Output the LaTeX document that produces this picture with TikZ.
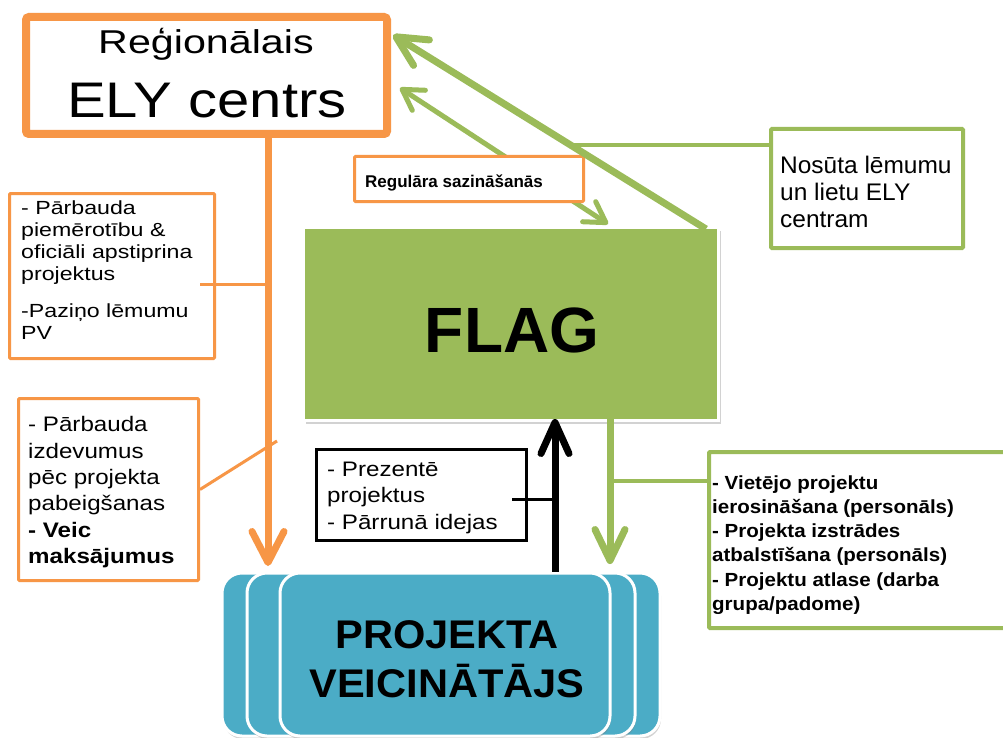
\documentclass[tikz,border=0pt]{standalone}
\usepackage{fontspec}
\setmainfont{Liberation Sans}
\usetikzlibrary{arrows.meta,calc,shadows}
\definecolor{orng}{HTML}{F79646}
\definecolor{grn}{HTML}{9BBB59}
\definecolor{tealb}{HTML}{4BACC6}
\newcommand\myfont[3]{\fontspec[FakeStretch=#3]{Liberation Sans}\fontsize{#1}{#2}\selectfont}
\begin{document}
\begin{tikzpicture}[x=1pt,y=-1pt,
  obox/.style={draw=orng,line width=3pt,fill=white,inner sep=0pt,rounded corners=1pt},
  gbox/.style={draw=grn,line width=4pt,fill=white,inner sep=0pt,rounded corners=1pt},
  tx/.style={anchor=north west,inner sep=0pt,align=left},
  pvbox/.style={fill=tealb,draw=white,line width=3pt,rounded corners=20pt,minimum height=163pt,inner sep=0pt,
    drop shadow={shadow xshift=1pt,shadow yshift=-3pt,opacity=.35}},
  oline/.style={orng,line width=3pt},
  gline/.style={grn,line width=4pt}]
\fill[white] (0,0) rectangle (1003,738);
\useasboundingbox (0,0) rectangle (1003,738);
% ELY box
\node[draw=orng,line width=8pt,rounded corners=3pt,fill=white,minimum width=361pt,minimum height=117pt,inner sep=0pt] (ely) at (206.5,75.5) {};
\node[anchor=base,inner sep=0pt,font=\myfont{33}{40}{1.25}] (ely1) at (206,54) {Reģionālais};
\node[anchor=base,inner sep=0pt,font=\myfont{50}{60}{1.16}] (ely2) at (207,118) {ELY centrs};
% FLAG box
\node[fill=grn,draw=white,line width=3pt,minimum width=415pt,minimum height=193pt,inner sep=0pt,
  drop shadow={shadow xshift=2pt,shadow yshift=-3pt,opacity=.35}] (flag) at (511,324) {};
\node[anchor=base,inner sep=0pt,font=\myfont{64}{70}{1}\bfseries] (flagt) at (512,352) {FLAG};
% thin double arrow (behind the label box)
\draw[grn,line width=5pt,{Straight Barb[length=20pt,width=24pt,round]}-{Straight Barb[length=20pt,width=24pt,round]}]
  ($(ely.east)+(9,12.5)$) -- ($(flag.north)+(97,-2)$);
% Regulara box
\node[obox,minimum width=229pt,minimum height=45pt] (reg) at (469,179) {};
\node[anchor=base west,inner sep=0pt,font=\myfont{17}{20}{1}\bfseries] (regt) at (365,187) {Regulāra sazināšanās};
% Nosuta box
\node[gbox,minimum width=192pt,minimum height=119pt] (nos) at (867,188.5) {};
\node[tx,font=\myfont{24}{27}{1.02}] (nost) at (780,149) {\rule{0pt}{24pt}Nosūta lēmumu\\un lietu ELY\\centram};
% left boxes
\node[obox,minimum width=205pt,minimum height=165pt] (b1) at (112,276) {};
\node[tx,font=\myfont{19}{22}{1.22}] (b1t) at (21,195) {\rule{0pt}{19pt}- Pārbauda\\piemērotību \&\\oficiāli apstiprina\\projektus\\[15pt]-Paziņo lēmumu\\PV};
\node[obox,minimum width=180pt,minimum height=182pt] (b2) at (108.5,489.5) {};
\node[tx,font=\myfont{21}{26.3}{1.15}] (b2t) at (28,410.7) {\rule{0pt}{21pt}- Pārbauda\\izdevumus\\pēc projekta\\pabeigšanas\\\textbf{- Veic}\\\textbf{maksājumus}};
% Prezente box
\node[draw=black,line width=3pt,fill=white,minimum width=210pt,minimum height=91pt,inner sep=0pt] (prz) at (421.5,495) {};
\node[tx,font=\myfont{21}{26.5}{1.15}] (przt) at (327,455) {\rule{0pt}{21pt}- Prezentē\\projektus\\- Pārrunā idejas};
% right green box
\node[gbox,minimum width=311pt,minimum height=176pt] (rb) at (864.5,540) {};
\node[tx,font=\myfont{19}{24.2}{1.08}\bfseries] (rbt) at (712,470) {\rule{0pt}{19pt}- Vietējo projektu\\ierosināšana (personāls)\\- Projekta izstrādes\\atbalstīšana (personāls)\\- Projektu atlase (darba\\grupa/padome)};
% PV stacked boxes
\node[pvbox,minimum width=438pt] (pv1) at (441,654.5) {};
\node[pvbox,minimum width=388pt] (pv2) at (441,654.5) {};
\node[pvbox,minimum width=330pt] (pv3) at (445,654.5) {};
\node[anchor=north,inner sep=0pt,align=center,font=\myfont{40}{49}{1.04}\bfseries] (pvt) at (447,608) {\rule{0pt}{40pt}PROJEKTA\\VEICINĀTĀJS};
% connectors
\coordinate (oTip) at (268,566);
\draw[orng,line width=7pt,-{Straight Barb[length=31pt,width=32pt,round]}] (ely.south -| oTip) -- (oTip);
\coordinate (oK1) at (200,284);
\draw[oline] (oK1) -- (oK1 -| oTip);
\coordinate (oK2) at (277,441);
\draw[oline] (b2.east) -- (oK2);
\draw[grn,line width=7pt,-{Straight Barb[length=30pt,width=30pt,round]}]
  ($(flag.north east)+(-14,3)$) -- ($(ely.north east)+(2,22)$);
\coordinate (gJ) at (568,145);
\draw[gline] (gJ) -- (gJ -| nos.west);
\coordinate (gT) at (610,564);
\draw[grn,line width=7pt,-{Straight Barb[length=31pt,width=30pt,round]}] ($(flag.south -| gT)+(0,-4)$) -- (gT);
\coordinate (gK) at (610,481);
\draw[gline] (gK) -- (gK -| rb.west);
\coordinate (bT) at (555,419);
\draw[black,line width=7pt,-{Straight Barb[length=31pt,width=28pt,round]}] (pv3.north -| bT) -- (bT);
\coordinate (bK) at (512,499);
\draw[black,line width=3pt] (bK) -- (bK -| bT);
\end{tikzpicture}
\end{document}
